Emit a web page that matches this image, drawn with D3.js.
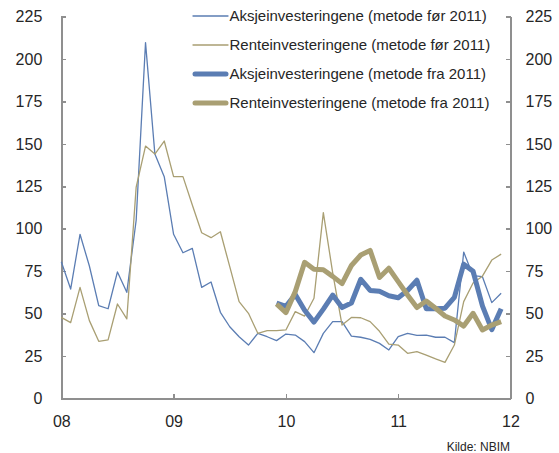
<!DOCTYPE html>
<html lang="no">
<head>
<meta charset="utf-8">
<title>Aksje- og renteinvesteringene</title>
<script src="https://cdn.jsdelivr.net/npm/d3@7"></script>
<style>
  body { margin: 0; background: #fff; }
  .axis path, .axis line { stroke: #8f8f8f; stroke-width: 1.5; shape-rendering: crispEdges; }
  .axis text { font-family: "Liberation Sans", Arial, sans-serif; font-size: 16px; fill: #262626; }
  .legend text { font-family: "Liberation Sans", Arial, sans-serif; font-size: 15px; fill: #262626; }
  .source { font-family: "Liberation Sans", Arial, sans-serif; font-size: 12px; fill: #262626; }
</style>
</head>
<body>
<script>
var w = 559, h = 453;
var padL = 61.3, padR = 48.5, padT = 16.7, padB = 54.7;

// monthly values, Jan 2008 - Dec 2011
var aksjeFor = [80.5, 64.4, 96.7, 78, 54.6, 52.8, 74.5, 62.5, 105, 209.7, 144, 130.7,
                96.7, 85.8, 88.4, 65.4, 68.6, 50.7, 42.2, 36.3, 31.4, 38.3, 36.3, 34,
                37.9, 37.3, 33.4, 26.9, 38.3, 45.2, 45.2, 36.7, 36, 34.8, 32.4, 28.5,
                36.3, 38.3, 37.1, 37.3, 36, 36, 32.8, 86.2, 72.3, 71.7, 56.4, 61.9];
var renteFor = [47.7, 44.6, 65.4, 45.8, 33.6, 34.4, 55.6, 46.8, 124.5, 148.7, 144, 151.7,
                130.7, 130.7, 114, 97.6, 94.7, 98.2, 77.6, 57, 50.1, 38.3, 39.9, 39.9,
                40.3, 51.1, 48.5, 59, 109.5, 74, 43.2, 47.7, 47.5, 45.2, 39.5, 32,
                31.4, 26.5, 27.5, 25.5, 23.2, 21.2, 31.4, 57, 68, 72, 81.5, 85];
// new method starts Dec 2009 (month index 23)
var startFra = 23;
var aksjeFra = [56.2, 54.2, 61.2, 51.9, 44.9, 52.6, 60.9, 53.5, 56.2, 70.2, 63.6, 63.1, 60.5,
                59.3, 63.6, 69.6, 52.8, 52.8, 53.1, 59.5, 79.1, 74.9, 54.5, 40.5, 52.8];
var renteFra = [55.6, 50.5, 62.9, 80.2, 76.1, 75.8, 71.9, 67.6, 78.3, 84.5, 87.2, 71.2, 76.7,
                68.8, 60.9, 53.5, 57.4, 53.1, 48.5, 46.2, 42.6, 50.1, 40.3, 43.2, 45.2];

var yTicks = [0, 25, 50, 75, 100, 125, 150, 175, 200, 225];
var xTicks = [0, 12, 24, 36, 48];
var xLabels = ["08", "09", "10", "11", "12"];

var seriesNames = ["Aksjeinvesteringene (metode før 2011)", "Renteinvesteringene (metode før 2011)",
                   "Aksjeinvesteringene (metode fra 2011)", "Renteinvesteringene (metode fra 2011)"];
var blue = "#5b7db3", tan = "#a99f73";

var series = [
  {name: seriesNames[0], values: aksjeFor, start: 0, color: blue, width: 1.3},
  {name: seriesNames[1], values: renteFor, start: 0, color: tan, width: 1.3},
  {name: seriesNames[2], values: aksjeFra, start: startFra, color: blue, width: 5},
  {name: seriesNames[3], values: renteFra, start: startFra, color: tan, width: 5}
];

var x = d3.scaleLinear().domain([0, 48]).range([padL, w - padR]);
var y = d3.scaleLinear().domain([0, 225]).range([h - padB, padT]);

var svg = d3.select("body").append("svg").attr("width", w).attr("height", h);

// axes
svg.append("g").attr("class", "axis")
   .attr("transform", "translate(" + padL + ",0)")
   .call(d3.axisLeft(y).tickValues(yTicks).tickSizeInner(-5).tickSizeOuter(0).tickPadding(19));

svg.append("g").attr("class", "axis")
   .attr("transform", "translate(" + (w - padR) + ",0)")
   .call(d3.axisRight(y).tickValues(yTicks).tickSizeInner(-5).tickSizeOuter(0).tickPadding(15));

svg.append("g").attr("class", "axis")
   .attr("transform", "translate(0," + (h - padB) + ")")
   .call(d3.axisBottom(x).tickValues(xTicks).tickFormat(function(d, i) { return xLabels[i]; })
         .tickSizeInner(-4).tickSizeOuter(0).tickPadding(17));

// lines
var line = d3.line().x(function(d) { return x(d[0]); }).y(function(d) { return y(d[1]); });

series.forEach(function(s) {
  var pts = s.values.map(function(v, i) { return [s.start + i, v]; });
  svg.append("path").datum(pts)
     .attr("fill", "none")
     .attr("stroke", s.color)
     .attr("stroke-width", s.width)
     .attr("stroke-linejoin", "round")
     .attr("d", line);
});

// legend
var leg = svg.append("g").attr("class", "legend");
var legX = 193, legY = 16, legStep = 29;
series.forEach(function(s, i) {
  leg.append("line")
     .attr("x1", legX + (s.width > 2 ? 2 : 0)).attr("x2", legX + 35 - (s.width > 2 ? 2 : 0))
     .attr("y1", legY + i * legStep).attr("y2", legY + i * legStep)
     .attr("stroke", s.color).attr("stroke-width", s.width)
     .attr("stroke-linecap", "round");
  leg.append("text")
     .attr("x", legX + 36.5).attr("y", legY + i * legStep)
     .attr("dy", "0.35em")
     .text(s.name);
});

svg.append("text").attr("class", "source")
   .attr("x", 510).attr("y", 451)
   .attr("text-anchor", "end")
   .text("Kilde: NBIM");
</script>
</body>
</html>
